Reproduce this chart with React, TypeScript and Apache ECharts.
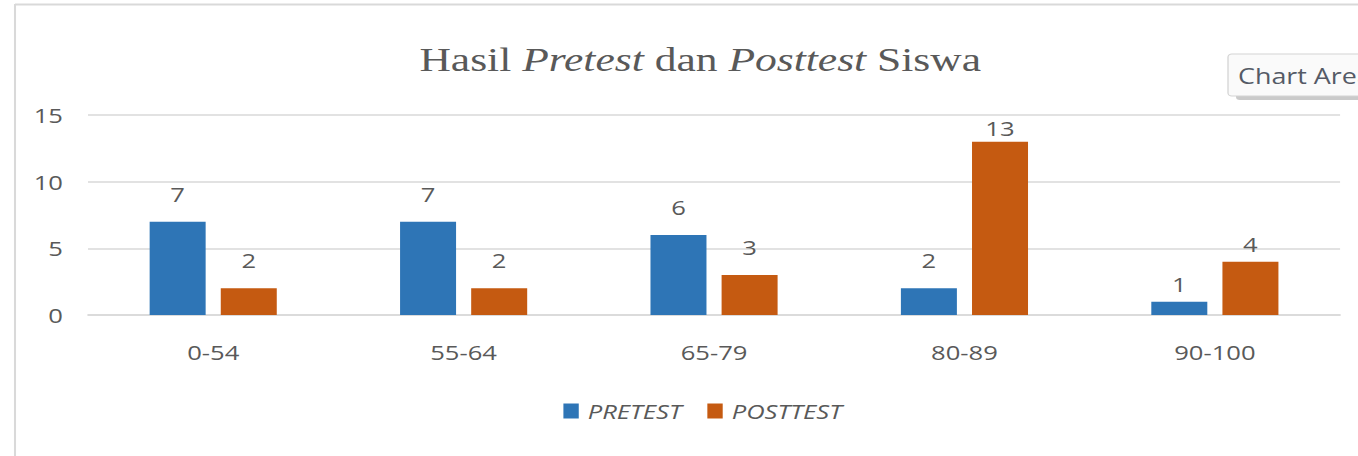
import React, { useEffect, useRef } from "react";
import * as echarts from "echarts";

const categories = ["0-54", "55-64", "65-79", "80-89", "90-100"];
const pretest = [7, 7, 6, 2, 1];
const posttest = [2, 2, 3, 13, 4];
const seriesNames = ["PRETEST", "POSTTEST"];
const yTicks = [0, 5, 10, 15];

// The reference picture is stretched horizontally; draw narrower and stretch.
const SX = 1.28;
const W = 1358 / SX;
const H = 456;

export default function App() {
  const ref = useRef<HTMLDivElement>(null);
  useEffect(() => {
    if (!ref.current) return;
    const chart = echarts.init(ref.current, null, { renderer: "svg" });
    const font = "'Open Sans', 'Noto Sans', sans-serif";
    const serif = "'Liberation Serif', 'DejaVu Serif', serif";
    const baseLabel = {
      show: true,
      position: "top",
      color: "#595959",
      fontSize: 20,
      fontFamily: font,
    };
    const distFor = (v: number, i: number) => {
      if (v >= 13) return 4;
      if (i === categories.length - 1) return 8;
      return 18;
    };
    const mk = (vals: number[]) =>
      vals.map((v, i) => ({ value: v, label: { ...baseLabel, distance: distFor(v, i) } }));
    chart.setOption({
      animation: false,
      backgroundColor: "#ffffff",
      title: {
        text: "{n|Hasil }{i|Pretest}{n| dan }{i|Posttest}{n| Siswa}",
        left: 413 / SX,
        top: 37,
        textStyle: {
          fontWeight: "normal",
          rich: {
            n: { fontFamily: serif, fontSize: 34, color: "#595959", fontWeight: "normal" },
            i: { fontFamily: serif, fontSize: 34, color: "#595959", fontStyle: "italic", fontWeight: "normal" },
          },
        },
      },
      legend: {
        data: seriesNames,
        bottom: 30,
        left: 557 / SX,
        itemWidth: 12,
        itemHeight: 15,
        itemGap: 20,
        icon: "rect",
        textStyle: {
          color: "#595959",
          fontSize: 20,
          fontStyle: "italic",
          fontFamily: font,
          padding: [0, 0, 0, 2],
        },
      },
      grid: { left: 88 / SX, right: 18 / SX, top: 115, bottom: 141 },
      xAxis: {
        type: "category",
        data: categories,
        axisLine: { lineStyle: { color: "#d9d9d9", width: 1.5 } },
        axisTick: { show: false },
        axisLabel: { color: "#595959", fontSize: 20, fontFamily: font, margin: 27 },
      },
      yAxis: {
        type: "value",
        min: yTicks[0],
        max: yTicks[yTicks.length - 1],
        interval: 5,
        axisLine: { show: false },
        axisTick: { show: false },
        splitLine: { lineStyle: { color: "#d9d9d9", width: 1.5 } },
        axisLabel: { color: "#595959", fontSize: 20, fontFamily: font, margin: 25 / SX },
      },
      series: [
        {
          name: seriesNames[0],
          type: "bar",
          data: mk(pretest),
          barWidth: 56 / SX,
          barGap: "27%",
          itemStyle: { color: "#2E75B6" },
          label: baseLabel,
        },
        {
          name: seriesNames[1],
          type: "bar",
          data: mk(posttest),
          barWidth: 56 / SX,
          barGap: "27%",
          itemStyle: { color: "#C55A11" },
          label: baseLabel,
        },
      ],
      graphic: [
        {
          type: "line",
          shape: { x1: 15 / SX, y1: 4.5, x2: W, y2: 4.5 },
          style: { stroke: "#d9d9d9", lineWidth: 2 },
        },
        {
          type: "line",
          shape: { x1: 15 / SX, y1: 4, x2: 15 / SX, y2: H },
          style: { stroke: "#d9d9d9", lineWidth: 1.6 },
        },
        {
          type: "rect",
          shape: { x: 1236 / SX, y: 60, width: 110, height: 40, r: 3 },
          style: { fill: "#8a8a8a", opacity: 0.45 },
        },
        {
          type: "rect",
          shape: { x: 1228 / SX, y: 54, width: 110, height: 42, r: 3 },
          style: { fill: "#fafafa", stroke: "#d4d4d4", lineWidth: 1 },
        },
        {
          type: "text",
          x: 1238 / SX,
          y: 76,
          style: {
            text: "Chart Area",
            fill: "#555a66",
            fontSize: 21,
            fontFamily: font,
            verticalAlign: "middle",
          },
        },
      ],
    });
    return () => chart.dispose();
  }, []);
  return (
    <div
      ref={ref}
      style={{
        position: "fixed",
        left: 0,
        top: 0,
        width: W,
        height: H,
        transform: `scaleX(${SX})`,
        transformOrigin: "0 0",
      }}
    />
  );
}
